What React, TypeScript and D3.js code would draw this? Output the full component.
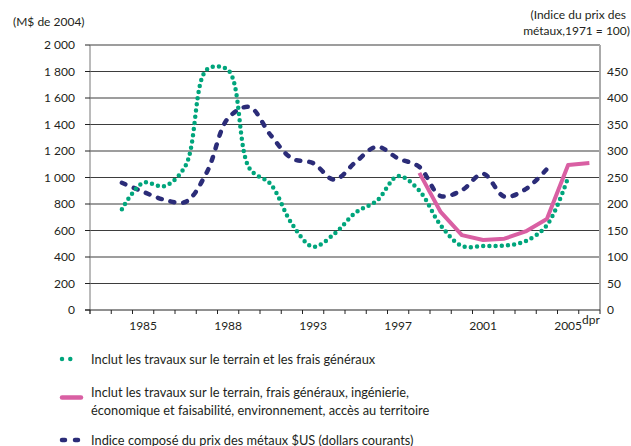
import React from "react";
import * as d3 from "d3";

// 24 category slots (band axis); labels only on some
const categories: string[] = [
  "", "", "1985", "", "", "", "1988", "", "", "", "1993", "", "", "", "1997", "", "", "", "2001", "", "", "", "2005", "",
];

// M$ de 2004 — travaux sur le terrain et frais généraux
const fieldOverhead: (number | null)[] = [
  null, 760, 960, 935, 1090, 1815, 1810, 1070, 950, 650, 478, 575, 735, 825, 1010, 900, 640, 483, 483, 486, 520, 640, 1000, null,
];

// M$ de 2004 — définition élargie
const broadDefinition: (number | null)[] = [
  null, null, null, null, null, null, null, null, null, null, null, null, null, null, null, 1035, 740, 565, 528, 538, 593, 686, 1095, 1110,
];

// Indice composé du prix des métaux (1971 = 100)
const metalIndex: (number | null)[] = [
  null, 240, 223, 208, 204, 260, 362, 383, 330, 286, 277, 246, 279, 308, 286, 270, 215, 226, 257, 214, 228, 266, null, null,
];

const leftTicks = [0, 200, 400, 600, 800, 1000, 1200, 1400, 1600, 1800, 2000];
const rightTicks = [0, 50, 100, 150, 200, 250, 300, 350, 400, 450];

const W = 631;
const H = 446;
const X0 = 90;
const X1 = 600;
const Y0 = 310;
const YT = 45;

const GREEN = "#00a57c";
const PINK = "#d95fa3";
const NAVY = "#2b2c78";
const FONT = "Lato, 'Open Sans', sans-serif";
const TEXT = "#231f20";
const LEG = 12.8;

const fmt = (v: number) => (v >= 1000 ? `${Math.floor(v / 1000)}\u00a0${String(v % 1000).padStart(3, "0")}` : String(v));

export default function App() {
  const x = d3.scaleBand<number>().domain(d3.range(categories.length)).range([X0, X1]).padding(0);
  const cx = (i: number) => (x(i) as number) + x.bandwidth() / 2;
  const yL = d3.scaleLinear().domain([0, 2000]).range([Y0, YT]);
  const yR = d3.scaleLinear().domain([0, 500]).range([Y0, YT]);

  const greenPath = d3
    .line<number | null>()
    .defined((d) => d !== null)
    .x((_, i) => cx(i))
    .y((d) => yL(d as number))
    .curve(d3.curveCatmullRom.alpha(0.5))(fieldOverhead) || "";
  const bluePath = d3
    .line<number | null>()
    .defined((d) => d !== null)
    .x((_, i) => cx(i))
    .y((d) => yR(d as number))
    .curve(d3.curveCatmullRom.alpha(0.5))(metalIndex) || "";
  const pinkPath = d3
    .line<number | null>()
    .defined((d) => d !== null)
    .x((_, i) => cx(i))
    .y((d) => yL(d as number))
    .curve(d3.curveLinear)(broadDefinition) || "";

  const tickXs = d3.range(categories.length + 1).map((i) => X0 + i * x.bandwidth());

  return (
    <svg
      width={W}
      height={H}
      viewBox={`0 0 ${W} ${H}`}
      style={{ position: "absolute", left: 0, top: 0, background: "#fff" }}
      fontFamily={FONT}
    >
      {/* titles */}
      <text x={13} y={26} fontSize={12} fill={TEXT}>(M$ de 2004)</text>
      <text x={626} y={19} fontSize={12} fill={TEXT} textAnchor="end">(Indice du prix des</text>
      <text x={630} y={35} fontSize={12} fill={TEXT} textAnchor="end">métaux,1971 = 100)</text>

      {/* gridlines */}
      {leftTicks.filter((t) => t > 0).map((t) => (
        <line key={t} x1={X0} x2={X1} y1={yL(t)} y2={yL(t)} stroke="#3d3d3d" strokeWidth={1.1} />
      ))}

      {/* axes */}
      <line x1={X0} x2={X0} y1={YT} y2={Y0 + 4} stroke="#777" strokeWidth={1} />
      <line x1={X1} x2={X1} y1={YT} y2={Y0} stroke="#aaa" strokeWidth={2} />
      <line x1={X0 - 5} x2={X1} y1={Y0} y2={Y0} stroke="#222" strokeWidth={1} />
      {leftTicks.map((t) => (
        <g key={t}>
          <line x1={X0 - 5} x2={X0} y1={yL(t)} y2={yL(t)} stroke="#222" strokeWidth={1} />
          <text x={75} y={yL(t)} dy="0.35em" fontSize={12} fill={TEXT} textAnchor="end">{fmt(t)}</text>
        </g>
      ))}
      {rightTicks.map((t) => (
        <text key={t} x={607} y={yR(t)} dy="0.35em" fontSize={12} fill={TEXT}>{t}</text>
      ))}
      {tickXs.map((tx, i) => (
        <line key={i} x1={tx} x2={tx} y1={Y0} y2={Y0 + 4} stroke="#222" strokeWidth={1} />
      ))}
      {categories.map((c, i) =>
        c ? (
          <text key={i} x={cx(i)} y={330} fontSize={12} fill={TEXT} textAnchor="middle">{c}</text>
        ) : null
      )}
      <text x={582} y={324} fontSize={12} fill={TEXT}>dpr</text>

      {/* series */}
      <path d={bluePath} fill="none" stroke={NAVY} strokeWidth={4.5} strokeLinecap="round" strokeDasharray="4 9" />
      <path d={greenPath} fill="none" stroke={GREEN} strokeWidth={4.5} strokeLinecap="round" strokeDasharray="0 6.2" />
      <path d={pinkPath} fill="none" stroke={PINK} strokeWidth={4} strokeLinejoin="round" />

      {/* legend */}
      <line x1={62} x2={78.6} y1={359} y2={359} stroke={GREEN} strokeWidth={4.5} strokeLinecap="round" strokeDasharray="0 8.3" />
      <text x={91} y={363.5} fontSize={LEG} fill={TEXT}>Inclut les travaux sur le terrain et les frais généraux</text>

      <line x1={62} x2={81} y1={397.5} y2={397.5} stroke={PINK} strokeWidth={4.5} strokeLinecap="round" />
      <text x={91} y={397} fontSize={LEG} fill={TEXT}>Inclut les travaux sur le terrain, frais généraux, ingénierie,</text>
      <text x={91} y={414.5} fontSize={LEG} fill={TEXT}>économique et faisabilité, environnement, accès au territoire</text>

      <line x1={62} x2={78} y1={440} y2={440} stroke={NAVY} strokeWidth={4.5} strokeLinecap="round" strokeDasharray="3 10" />
      <text x={91} y={444.5} fontSize={LEG} fill={TEXT}>Indice composé du prix des métaux $US (dollars courants)</text>
    </svg>
  );
}
